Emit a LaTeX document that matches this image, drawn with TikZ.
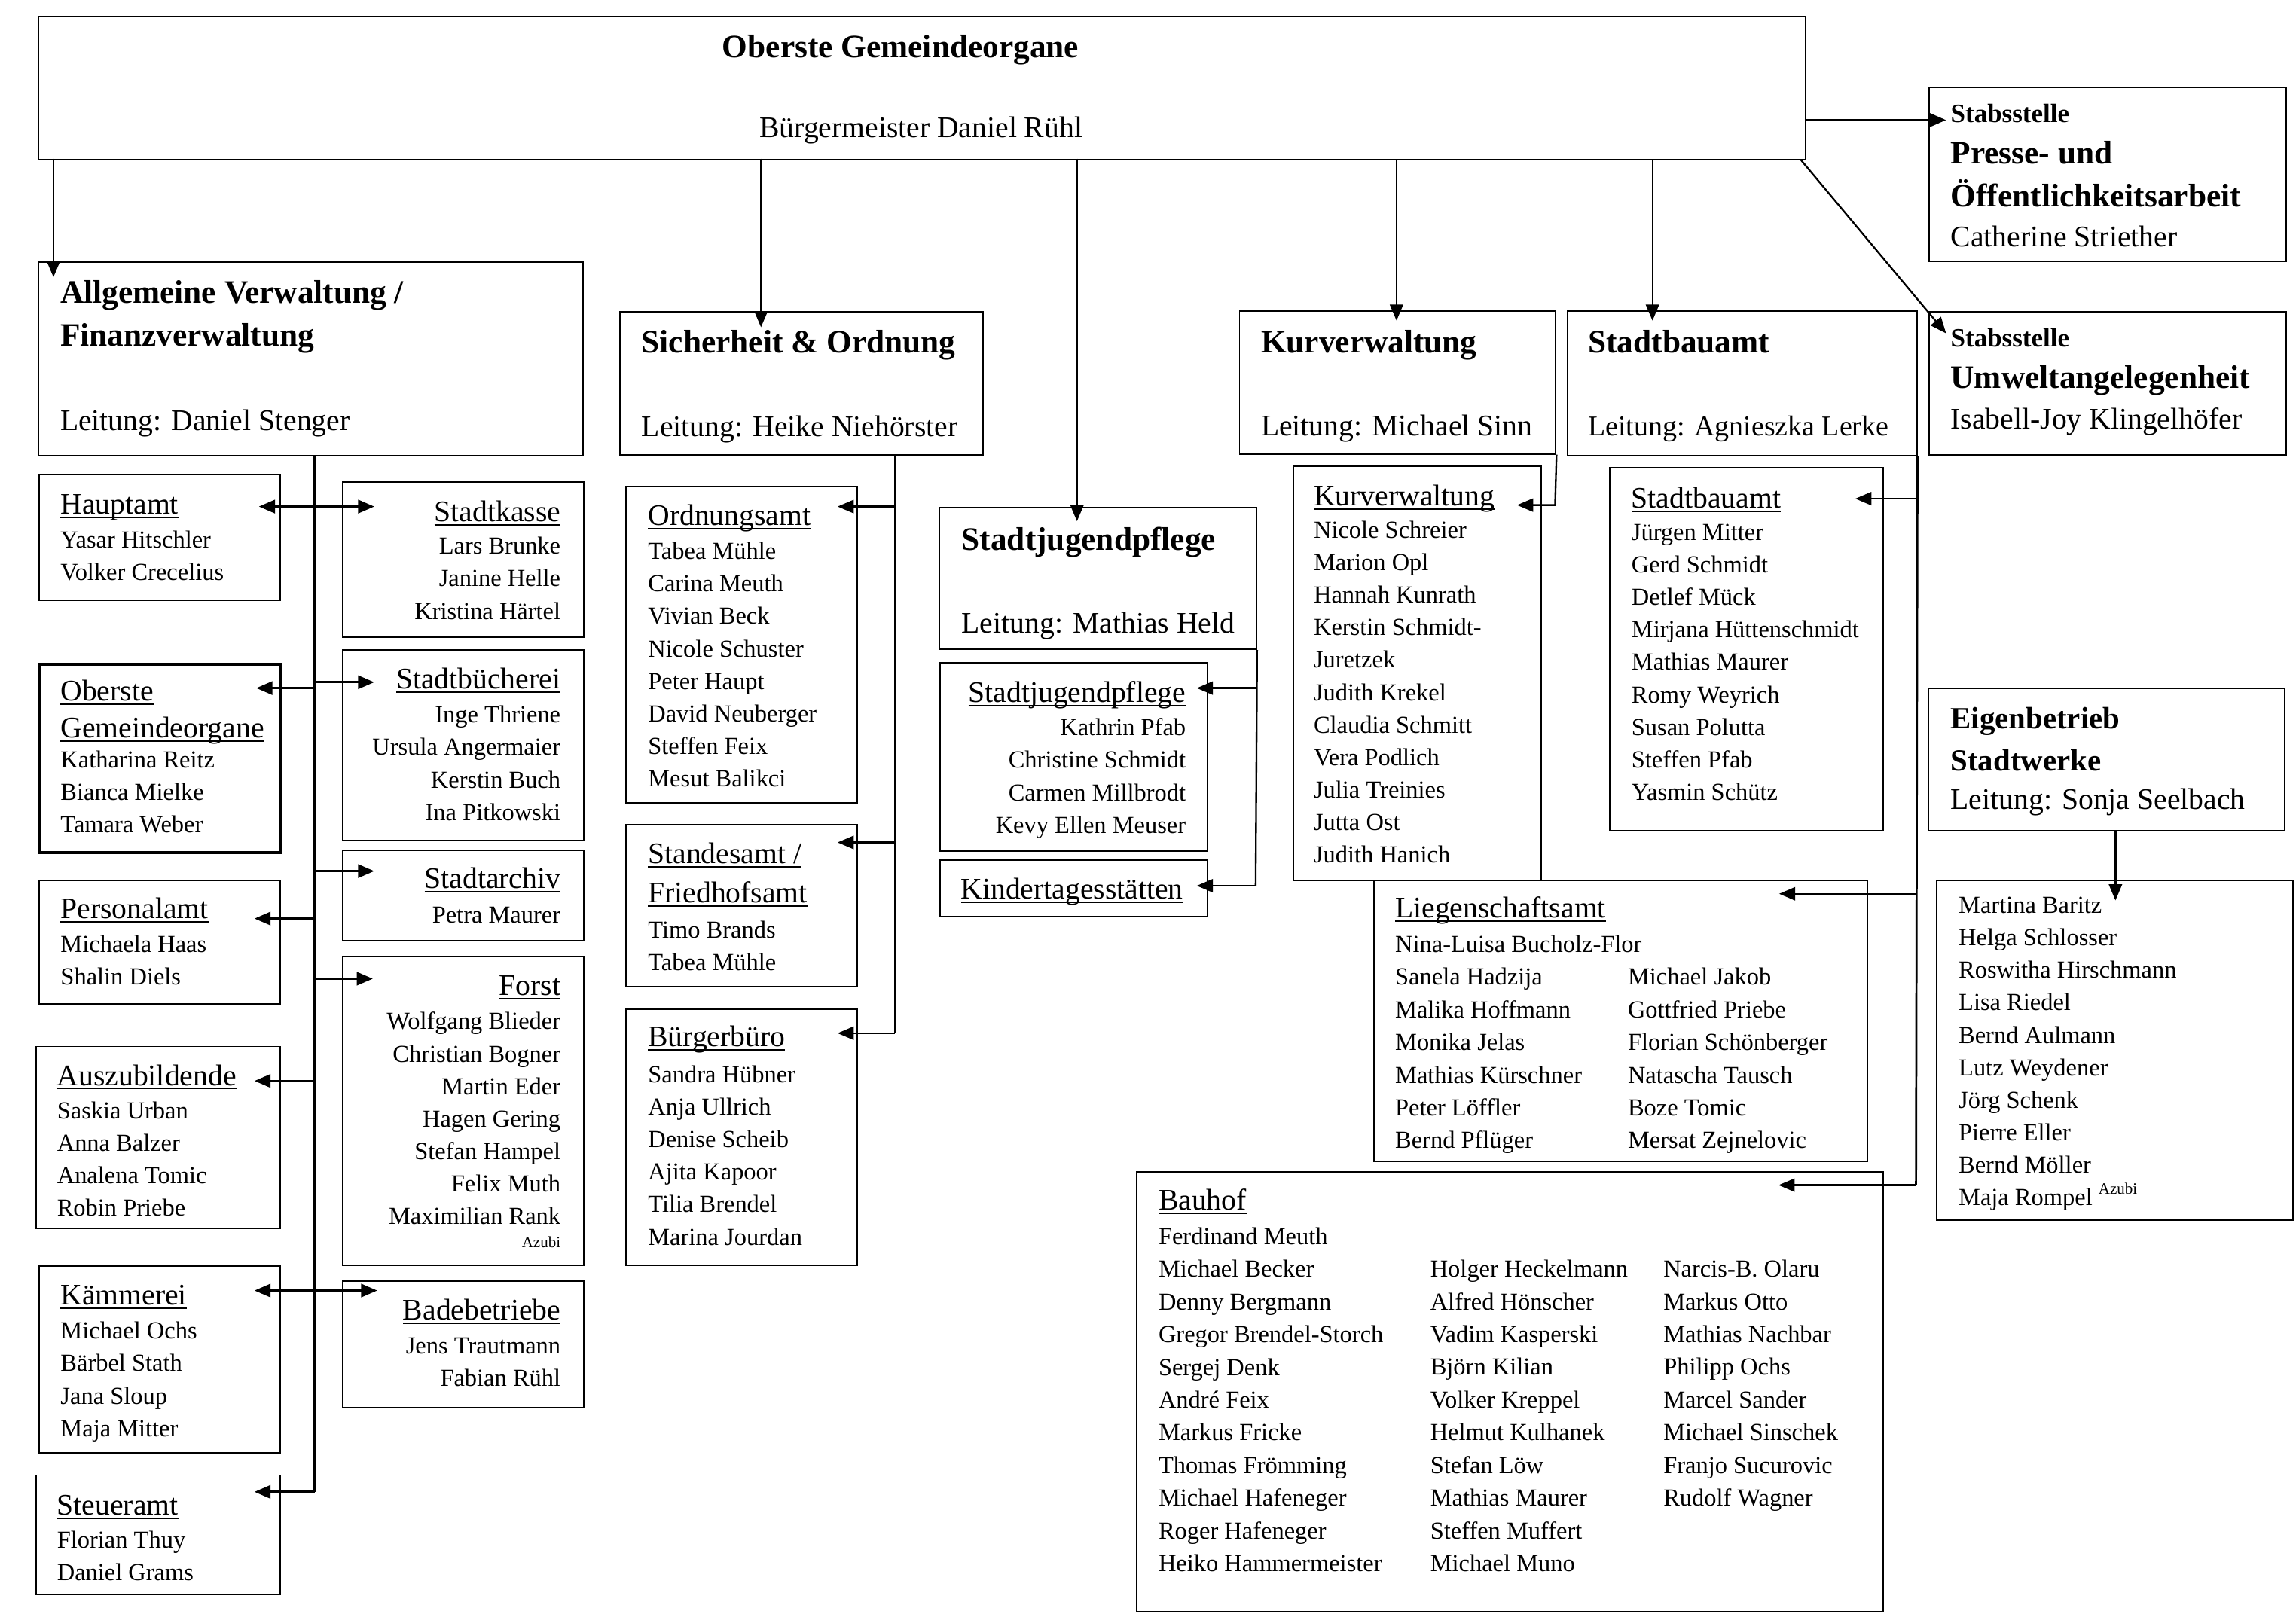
\documentclass[tikz,border=0pt]{standalone}
\usepackage{fontspec}
\setmainfont{Liberation Serif}
\usetikzlibrary{arrows.meta}
\tikzstyle{einheit}=[draw, line width=1pt, inner sep=0pt, anchor=north west]
\tikzstyle{titel}=[inner sep=0pt, anchor=base west, font=\fontsize{22.3}{29.3}\selectfont\bfseries]
\tikzstyle{stab}=[inner sep=0pt, anchor=base west, font=\fontsize{18}{20}\selectfont\bfseries]
\tikzstyle{leitung}=[inner sep=0pt, anchor=base west, font=\fontsize{20.4}{24}\selectfont]
\tikzstyle{amtkopf}=[inner sep=0pt, anchor=base west, font=\fontsize{20.4}{26}\selectfont]
\tikzstyle{namen}=[inner sep=0pt, anchor=base west, font=\fontsize{16.7}{22.2}\selectfont]
\tikzstyle{azubi}=[inner sep=0pt, anchor=base east, font=\fontsize{10.8}{12}\selectfont]
\tikzstyle{pfeil}=[->, line width=1.2pt]
\tikzstyle{lpfeil}=[->, line width=1.6pt]
\tikzstyle{strang}=[line width=1.8pt]
\newcommand{\zeilen}[1]{\begin{tabular}[t]{@{}l@{}}#1\end{tabular}}
\newcommand{\rzeilen}[1]{\begin{tabular}[t]{@{}r@{}}#1\end{tabular}}
\newcommand{\amtul}[1]{\setbox0=\hbox{#1}\rlap{\rule[-2.8pt]{\wd0}{1pt}}\box0}
\begin{document}
\begin{tikzpicture}[x=1pt,y=-1pt,>={Triangle[length=11pt,width=9pt]}]
\useasboundingbox (0,0) rectangle (1568,1102);

% top level
\node[einheit, minimum width=1206.5, minimum height=97.6] (top) at (26,10.8) {};
\node[titel, anchor=base] (top-t) at (615,39.5) {Oberste Gemeindeorgane};
\node[leitung, anchor=base] (top-l) at (629,94) {Bürgermeister Daniel Rühl};

\node[einheit, minimum width=244, minimum height=119] (presse) at (1317,59) {};
\node[stab] (presse-s) at (1332,83.8) {Stabsstelle};
\node[titel] (presse-t) at (1332,111.8) {\zeilen{Presse- und\\Öffentlichkeitsarbeit}};
\node[leitung] (presse-l) at (1332,168.4) {Catherine Striether};

\node[einheit, minimum width=244, minimum height=97.5] (umwelt) at (1317,212.5) {};
\node[stab] (umwelt-s) at (1332,236.9) {Stabsstelle};
\node[titel] (umwelt-t) at (1332,265.3) {Umweltangelegenheit};
\node[leitung] (umwelt-l) at (1332,292.8) {Isabell-Joy Klingelhöfer};

% departments
\node[einheit, minimum width=371.5, minimum height=132.2] (allg) at (26,178.3) {};
\node[titel] (allg-t) at (41,207) {\zeilen{Allgemeine Verwaltung /\\Finanzverwaltung}};
\node[leitung] (allg-l) at (41,294) {Leitung: Daniel Stenger};

\node[einheit, minimum width=248, minimum height=97.5] (sich) at (423,212.5) {};
\node[titel] (sich-t) at (438,241) {Sicherheit \& Ordnung};
\node[leitung] (sich-l) at (438,298) {Leitung: Heike Niehörster};

\node[einheit, minimum width=216.5, minimum height=97] (sjp) at (641,346) {};
\node[titel] (sjp-t) at (656.6,375.8) {Stadtjugendpflege};
\node[leitung] (sjp-l) at (656.6,432.4) {Leitung: Mathias Held};

\node[einheit, minimum width=216, minimum height=97.5] (kurv) at (846,212) {};
\node[titel] (kurv-t) at (861,241) {Kurverwaltung};
\node[leitung] (kurv-l) at (861,297.5) {Leitung: Michael Sinn};

\node[einheit, minimum width=238.5, minimum height=98.7] (sbau) at (1070,212) {};
\node[titel] (sbau-t) at (1084.4,241) {Stadtbauamt};
\node[leitung, font=\fontsize{19.5}{24}\selectfont] (sbau-l) at (1084.4,297.5) {Leitung: Agnieszka Lerke};

\node[einheit, minimum width=243.5, minimum height=97.4] (eigen) at (1316.5,469.6) {};
\node[titel, font=\fontsize{21}{28.7}\selectfont\bfseries] (eigen-t) at (1332,497.6) {\zeilen{Eigenbetrieb\\Stadtwerke}};
\node[leitung] (eigen-l) at (1332,552.6) {Leitung: Sonja Seelbach};

\node[einheit, minimum width=243.2, minimum height=232] (werke) at (1322.3,601) {};
\node[namen] (werke-n) at (1337.4,623.7) {\zeilen{Martina Baritz\\Helga Schlosser\\Roswitha Hirschmann\\Lisa Riedel\\Bernd Aulmann\\Lutz Weydener\\Jörg Schenk\\Pierre Eller\\Bernd Möller\\Maja Rompel {\fontsize{10.8}{12}\selectfont\raisebox{8pt}{Azubi}}}};

% Allgemeine Verwaltung, left
\node[einheit, minimum width=164.6, minimum height=86] (hauptamt) at (26.2,323.5) {};
\node[amtkopf] (hauptamt-t) at (41.2,351.1) {\amtul{Hauptamt}};
\node[namen] (hauptamt-n) at (41.2,374.3) {\zeilen{Yasar Hitschler\\Volker Crecelius}};

\node[einheit, line width=2.2pt, minimum width=164.6, minimum height=128.8] (oberste) at (26.2,452.6) {};
\node[amtkopf, font=\fontsize{20.4}{25.2}\selectfont] (oberste-t) at (41.2,478.6) {\zeilen{\amtul{Oberste}\\\amtul{Gemeindeorgane}}};
\node[namen] (oberste-n) at (41.2,524.5) {\zeilen{Katharina Reitz\\Bianca Mielke\\Tamara Weber}};

\node[einheit, minimum width=164.6, minimum height=84] (personal) at (26.2,601) {};
\node[amtkopf] (personal-t) at (41.2,627.5) {\amtul{Personalamt}};
\node[namen] (personal-n) at (41.2,650.5) {\zeilen{Michaela Haas\\Shalin Diels}};

\node[einheit, minimum width=166.8, minimum height=124.3] (azubis) at (24,714.3) {};
\node[amtkopf] (azubis-t) at (38.8,741.3) {\amtul{Auszubildende}};
\node[namen] (azubis-n) at (38.8,764) {\zeilen{Saskia Urban\\Anna Balzer\\Analena Tomic\\Robin Priebe}};

\node[einheit, minimum width=164.6, minimum height=127.5] (kaemmerei) at (26.2,864.3) {};
\node[amtkopf] (kaemmerei-t) at (41.2,891.1) {\amtul{Kämmerei}};
\node[namen] (kaemmerei-n) at (41.2,914.5) {\zeilen{Michael Ochs\\Bärbel Stath\\Jana Sloup\\Maja Mitter}};

\node[einheit, minimum width=166.8, minimum height=81.6] (steuer) at (24,1007) {};
\node[amtkopf] (steuer-t) at (38.8,1034.8) {\amtul{Steueramt}};
\node[namen] (steuer-n) at (38.8,1057.5) {\zeilen{Florian Thuy\\Daniel Grams}};

% Allgemeine Verwaltung, right
\node[einheit, minimum width=164.4, minimum height=105.8] (kasse) at (233.6,328.8) {};
\node[amtkopf, anchor=base east] (kasse-t) at (383,356.1) {\amtul{Stadtkasse}};
\node[namen, anchor=base east] (kasse-n) at (383,378.5) {\rzeilen{Lars Brunke\\Janine Helle\\Kristina Härtel}};

\node[einheit, minimum width=164.4, minimum height=130.1] (buecherei) at (233.6,443.5) {};
\node[amtkopf, anchor=base east] (buecherei-t) at (383,470.4) {\amtul{Stadtbücherei}};
\node[namen, anchor=base east] (buecherei-n) at (383,493.7) {\rzeilen{Inge Thriene\\Ursula Angermaier\\Kerstin Buch\\Ina Pitkowski}};

\node[einheit, minimum width=164.4, minimum height=61.6] (archiv) at (233.6,580.4) {};
\node[amtkopf, anchor=base east] (archiv-t) at (383,606.8) {\amtul{Stadtarchiv}};
\node[namen, anchor=base east] (archiv-n) at (383,630.5) {Petra Maurer};

\node[einheit, minimum width=164.4, minimum height=211.2] (forst) at (233.6,652.8) {};
\node[amtkopf, anchor=base east] (forst-t) at (383,679.8) {\amtul{Forst}};
\node[namen, anchor=base east] (forst-n) at (383,703.2) {\rzeilen{Wolfgang Blieder\\Christian Bogner\\Martin Eder\\Hagen Gering\\Stefan Hampel\\Felix Muth\\Maximilian Rank}};
\node[azubi] (forst-a) at (383,852.4) {Azubi};

\node[einheit, minimum width=164.4, minimum height=86.5] (bade) at (233.6,874.5) {};
\node[amtkopf, anchor=base east] (bade-t) at (383,901.4) {\amtul{Badebetriebe}};
\node[namen, anchor=base east] (bade-n) at (383,924.5) {\rzeilen{Jens Trautmann\\Fabian Rühl}};

% Sicherheit & Ordnung
\node[einheit, minimum width=158, minimum height=216] (ordnung) at (427,332) {};
\node[amtkopf] (ordnung-t) at (442.4,358.8) {\amtul{Ordnungsamt}};
\node[namen] (ordnung-n) at (442.4,382) {\zeilen{Tabea Mühle\\Carina Meuth\\Vivian Beck\\Nicole Schuster\\Peter Haupt\\David Neuberger\\Steffen Feix\\Mesut Balikci}};

\node[einheit, minimum width=158, minimum height=111] (standes) at (427,562.6) {};
\node[amtkopf, font=\fontsize{20.4}{26.8}\selectfont] (standes-t) at (442.4,589.8) {\zeilen{\amtul{Standesamt /}\\\amtul{Friedhofsamt}}};
\node[namen] (standes-n) at (442.4,640.5) {\zeilen{Timo Brands\\Tabea Mühle}};

\node[einheit, minimum width=158, minimum height=175] (buerger) at (427,689) {};
\node[amtkopf] (buerger-t) at (442.4,714.7) {\amtul{Bürgerbüro}};
\node[namen] (buerger-n) at (442.4,739.4) {\zeilen{Sandra Hübner\\Anja Ullrich\\Denise Scheib\\Ajita Kapoor\\Tilia Brendel\\Marina Jourdan}};

% Stadtjugendpflege
\node[einheit, minimum width=183, minimum height=129] (sjpsub) at (641.3,452) {};
\node[amtkopf, anchor=base east] (sjpsub-t) at (810,479.8) {\amtul{Stadtjugendpflege}};
\node[namen, anchor=base east] (sjpsub-n) at (810,502.5) {\rzeilen{Kathrin Pfab\\Christine Schmidt\\Carmen Millbrodt\\Kevy Ellen Meuser}};

\node[einheit, minimum width=183, minimum height=38.5] (kita) at (641.3,587) {};
\node[amtkopf] (kita-t) at (656,613.8) {\amtul{Kindertagesstätten}};

% Kurverwaltung
\node[einheit, minimum width=169, minimum height=283] (kurvsub) at (883,318) {};
\node[amtkopf] (kurvsub-t) at (897,345.3) {\amtul{Kurverwaltung}};
\node[namen] (kurvsub-n) at (897,367.5) {\zeilen{Nicole Schreier\\Marion Opl\\Hannah Kunrath\\Kerstin Schmidt-\\Juretzek\\Judith Krekel\\Claudia Schmitt\\Vera Podlich\\Julia Treinies\\Jutta Ost\\Judith Hanich}};

% Stadtbauamt
\node[einheit, minimum width=186.6, minimum height=248] (sbausub) at (1099,319) {};
\node[amtkopf] (sbausub-t) at (1114,346.8) {\amtul{Stadtbauamt}};
\node[namen] (sbausub-n) at (1114,369) {\zeilen{Jürgen Mitter\\Gerd Schmidt\\Detlef Mück\\Mirjana Hüttenschmidt\\Mathias Maurer\\Romy Weyrich\\Susan Polutta\\Steffen Pfab\\Yasmin Schütz}};

\node[einheit, minimum width=336.6, minimum height=192] (liegen) at (938,601) {};
\node[amtkopf] (liegen-t) at (952.6,626.8) {\amtul{Liegenschaftsamt}};
\node[namen, font=\fontsize{16.7}{22.33}\selectfont] (liegen-n1) at (952.6,650.5) {\zeilen{Nina-Luisa Bucholz-Flor\\Sanela Hadzija\\Malika Hoffmann\\Monika Jelas\\Mathias Kürschner\\Peter Löffler\\Bernd Pflüger}};
\node[namen, font=\fontsize{16.7}{22.33}\selectfont] (liegen-n2) at (1111.5,672.8) {\zeilen{Michael Jakob\\Gottfried Priebe\\Florian Schönberger\\Natascha Tausch\\Boze Tomic\\Mersat Zejnelovic}};

\node[einheit, minimum width=509.6, minimum height=300.5] (bauhof) at (776,800) {};
\node[amtkopf] (bauhof-t) at (791,826.5) {\amtul{Bauhof}};
\node[namen, font=\fontsize{16.7}{22.35}\selectfont] (bauhof-n1) at (791,850) {\zeilen{Ferdinand Meuth\\Michael Becker\\Denny Bergmann\\Gregor Brendel-Storch\\Sergej Denk\\André Feix\\Markus Fricke\\Thomas Frömming\\Michael Hafeneger\\Roger Hafeneger\\Heiko Hammermeister}};
\node[namen, font=\fontsize{16.7}{22.35}\selectfont] (bauhof-n2) at (976.6,872.3) {\zeilen{Holger Heckelmann\\Alfred Hönscher\\Vadim Kasperski\\Björn Kilian\\Volker Kreppel\\Helmut Kulhanek\\Stefan Löw\\Mathias Maurer\\Steffen Muffert\\Michael Muno}};
\node[namen, font=\fontsize{16.7}{22.35}\selectfont] (bauhof-n3) at (1135.8,872.3) {\zeilen{Narcis-B. Olaru\\Markus Otto\\Mathias Nachbar\\Philipp Ochs\\Marcel Sander\\Michael Sinschek\\Franjo Sucurovic\\Rudolf Wagner}};

% connectors from the top
\coordinate (a1) at (36.5,108.4);
\coordinate (a2) at (519.7,108.4);
\coordinate (a3) at (735.5,108.4);
\coordinate (a4) at (953.7,108.4);
\coordinate (a5) at (1128.5,108.4);
\coordinate (p1) at (1232.5,82);
\draw[pfeil, shorten >=-11pt] (a1) -- (a1 |- allg.north);
\draw[pfeil, shorten >=-11pt] (a2) -- (a2 |- sich.north);
\draw[pfeil, shorten >=-10pt] (a3) -- (a3 |- sjp.north);
\draw[pfeil, shorten >=-7pt] (a4) -- (a4 |- kurv.north);
\draw[pfeil, shorten >=-7pt] (a5) -- (a5 |- sbau.north);
\draw[pfeil, line width=1.8pt, shorten >=-12pt] (p1) -- (p1 -| presse.west);
\draw[pfeil] ([xshift=-3.5pt]top.south east) -- ([shift={(12,15.2)}]umwelt.north west);

% Allgemeine Verwaltung
\coordinate (lbus) at (215,1019);
\coordinate (l1) at (215,346);
\coordinate (l2) at (215,470);
\coordinate (l2r) at (215,466);
\coordinate (l3) at (215,595);
\coordinate (l4) at (215,627.4);
\coordinate (l5) at (215,668.5);
\coordinate (l6) at (215,738.3);
\coordinate (l7) at (215,881.5);
\draw[strang] (lbus |- allg.south) -- (lbus);
\draw[lpfeil, shorten >=-15pt] (l1) -- (l1 -| hauptamt.east);
\draw[lpfeil, shorten >=-22pt] (l1) -- (l1 -| kasse.west);
\draw[lpfeil, shorten >=-18pt] (l2) -- (l2 -| oberste.east);
\draw[lpfeil, shorten >=-22pt] (l2r) -- (l2r -| buecherei.west);
\draw[lpfeil, shorten >=-22pt] (l3) -- (l3 -| archiv.west);
\draw[lpfeil, shorten >=-18pt] (l4) -- (l4 -| personal.east);
\draw[lpfeil, shorten >=-21pt] (l5) -- (l5 -| forst.west);
\draw[lpfeil, shorten >=-18pt] (l6) -- (l6 -| azubis.east);
\draw[lpfeil, shorten >=-18pt] (l7) -- (l7 -| kaemmerei.east);
\draw[lpfeil, shorten >=-24pt] (l7) -- (l7 -| bade.west);
\draw[lpfeil, shorten >=-18pt] (lbus) -- (lbus -| steuer.east);

% Sicherheit & Ordnung
\coordinate (sbus) at (611,705.7);
\coordinate (s1) at (611,346);
\coordinate (s2) at (611,575.4);
\draw[line width=1.2pt] (sbus |- sich.south) -- (sbus);
\draw[pfeil, shorten >=-14pt] (s1) -- (s1 -| ordnung.east);
\draw[pfeil, shorten >=-14pt] (s2) -- (s2 -| standes.east);
\draw[pfeil, shorten >=-14pt] (sbus) -- (sbus -| buerger.east);

% Stadtjugendpflege
\coordinate (jbus) at (857.5,605);
\coordinate (j1) at (857.5,470);
\draw[line width=1.2pt] (sjp.south east) -- (jbus);
\draw[pfeil, shorten >=-8pt] (j1) -- (j1 -| sjpsub.east);
\draw[pfeil, shorten >=-8pt] (jbus) -- (jbus -| kita.east);

% Kurverwaltung
\coordinate (k1) at (1062,345);
\draw[pfeil, shorten >=-17pt] (kurv.south east) -- (k1) -- (k1 -| kurvsub.east);

% Stadtbauamt
\coordinate (bbus) at (1308.5,809.5);
\coordinate (b1) at (1308.5,340.6);
\coordinate (b2) at (1308.5,610.5);
\draw[line width=1.4pt] (sbau.south east) -- (bbus);
\draw[pfeil, shorten >=-19.6pt] (b1) -- (b1 -| sbausub.east);
\draw[pfeil, shorten >=-60.6pt] (b2) -- (b2 -| liegen.east);
\draw[pfeil, shorten >=-72pt] (bbus) -- (bbus -| bauhof.east);

% Stadtwerke
\coordinate (w1) at (1444.7,567);
\draw[pfeil, shorten >=-14pt] (w1) -- (w1 |- werke.north);
\end{tikzpicture}
\end{document}
